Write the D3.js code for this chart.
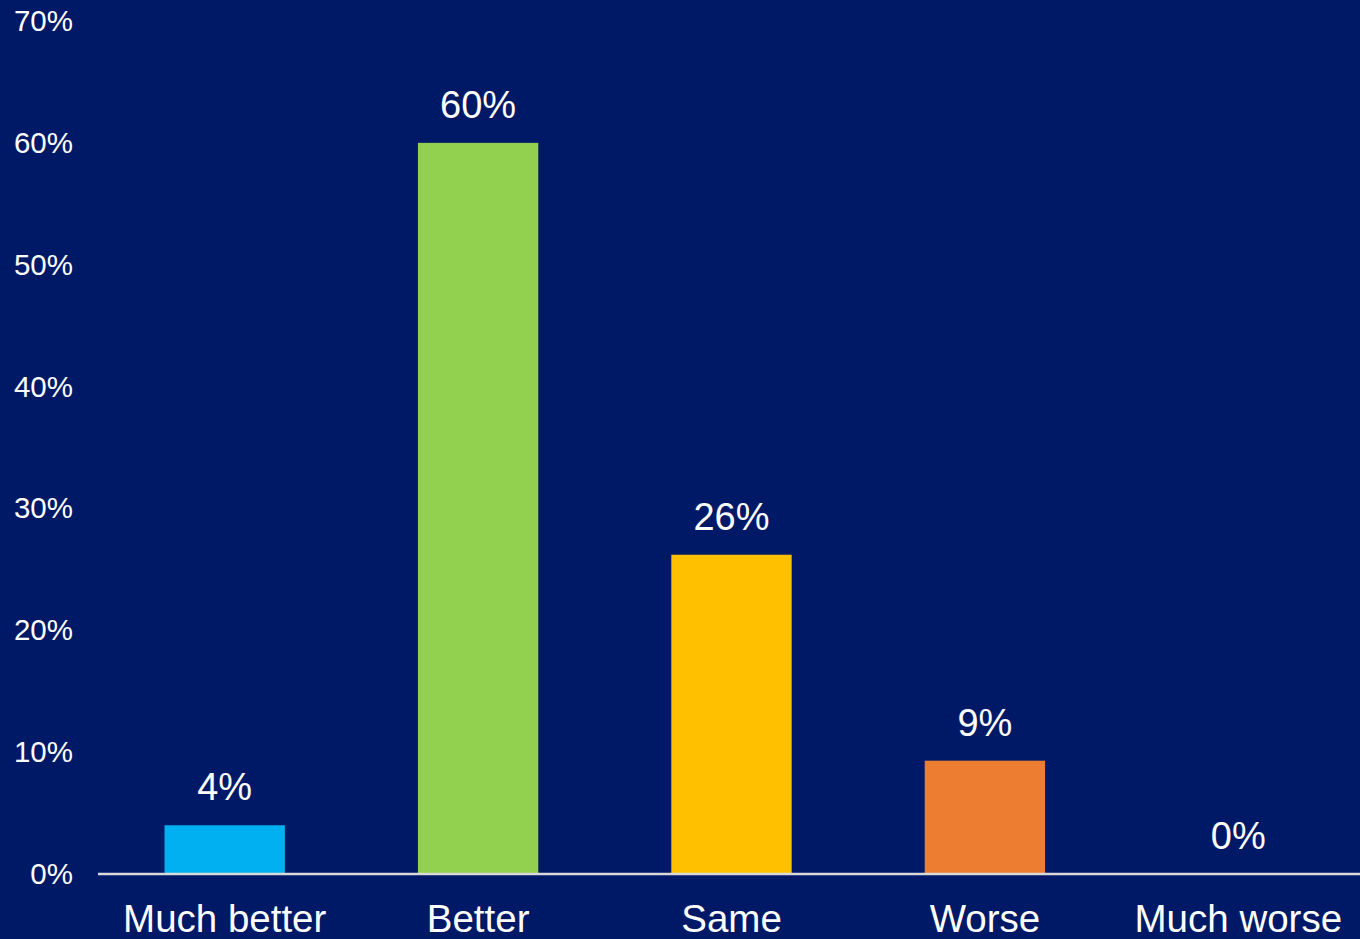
<!DOCTYPE html>
<html>
<head>
<meta charset="utf-8">
<script src="https://cdn.jsdelivr.net/npm/d3@7"></script>
<style>
  html, body { margin: 0; padding: 0; background: #001966; }
  svg { display: block; font-family: "Liberation Sans", Arial, sans-serif; }
</style>
</head>
<body>
<svg id="chart"></svg>
<script>
// Data (bar heights; labels show rounded values)
const categories = ["Much better", "Better", "Same", "Worse", "Much worse"];
const values     = [4, 60, 26.2, 9.3, 0];
const barColors  = ["#00B0F0", "#92D050", "#FFC000", "#ED7D31", "#A5A5A5"];
const yTicks     = [0, 10, 20, 30, 40, 50, 60, 70];

const W = 1360, H = 939;

const svg = d3.select("#chart")
    .attr("width", W)
    .attr("height", H);

svg.append("rect")
    .attr("width", W)
    .attr("height", H)
    .attr("fill", "#001966");

// Scales
const x = d3.scaleBand()
    .domain(categories)
    .range([98, 1365])
    .paddingInner(0.525)
    .paddingOuter(0.2625);

const y = d3.scaleLinear()
    .domain([0, 70])
    .range([874, 21]);

// Y axis (labels only)
const yAxis = svg.append("g")
    .attr("transform", "translate(73,0)")
    .call(d3.axisLeft(y).tickValues(yTicks).tickSize(0).tickPadding(0).tickFormat(d => d + "%"));

yAxis.select(".domain").remove();
yAxis.selectAll("text")
    .attr("fill", "#ffffff")
    .attr("font-size", "29.5px")
    .attr("font-family", "Liberation Sans, Arial, sans-serif");

// Bars
const data = categories.map((c, i) => ({ cat: c, value: values[i], color: barColors[i] }));

svg.selectAll(".bar")
    .data(data)
    .enter()
    .append("rect")
    .attr("class", "bar")
    .attr("x", d => x(d.cat))
    .attr("width", x.bandwidth())
    .attr("y", d => y(d.value))
    .attr("height", d => y(0) - y(d.value))
    .attr("fill", d => d.color);

// Value labels
svg.selectAll(".val")
    .data(data)
    .enter()
    .append("text")
    .attr("class", "val")
    .attr("x", d => x(d.cat) + x.bandwidth() / 2)
    .attr("y", d => y(d.value) - 25)
    .attr("text-anchor", "middle")
    .attr("fill", "#ffffff")
    .attr("font-size", "38px")
    .text(d => Math.round(d.value) + "%");

// X axis baseline + category labels
const xAxis = svg.append("g")
    .attr("transform", `translate(0,${y(0)})`)
    .call(d3.axisBottom(x).tickSize(0).tickPadding(0));

xAxis.select(".domain")
    .attr("stroke", "#D9D9D9")
    .attr("stroke-width", 2.5)
    .attr("d", `M98,0H${W}`);

xAxis.selectAll("text")
    .attr("fill", "#ffffff")
    .attr("font-size", "38.5px")
    .attr("font-family", "Liberation Sans, Arial, sans-serif")
    .attr("dy", null)
    .attr("y", 58);
</script>
</body>
</html>
